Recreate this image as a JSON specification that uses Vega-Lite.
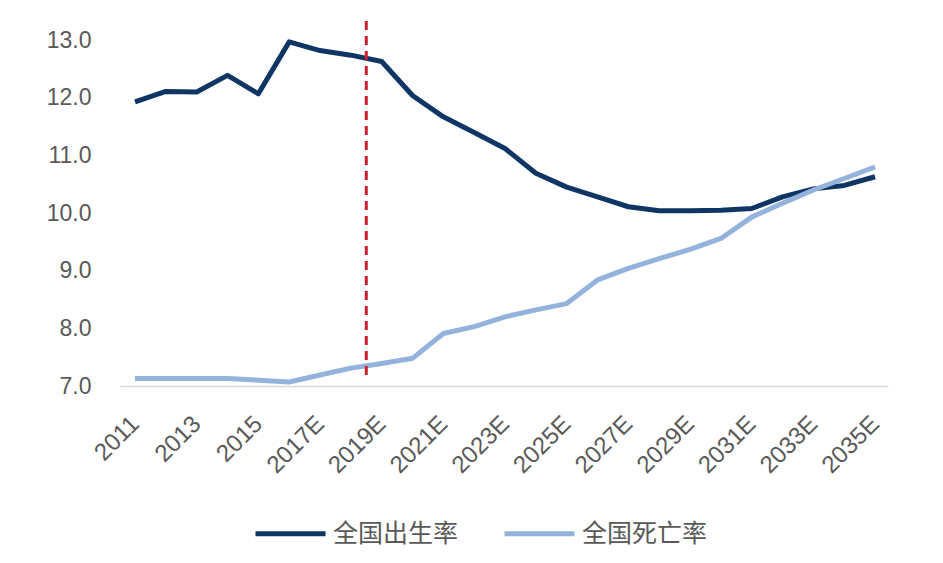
{
  "$schema": "https://vega.github.io/schema/vega-lite/v6.json",
  "autosize": {"type": "none"},
  "width": 768,
  "height": 366,
  "padding": {"left": 120, "top": 20, "right": 55, "bottom": 177},
  "background": "white",
  "config": {
    "view": {"stroke": null},
    "font": "Liberation Sans"
  },
  "datasets": {
    "rates": [
      {"year": 2011, "series": "全国出生率", "value": 11.93},
      {"year": 2012, "series": "全国出生率", "value": 12.11},
      {"year": 2013, "series": "全国出生率", "value": 12.10},
      {"year": 2014, "series": "全国出生率", "value": 12.39},
      {"year": 2015, "series": "全国出生率", "value": 12.07},
      {"year": 2016, "series": "全国出生率", "value": 12.97},
      {"year": 2017, "series": "全国出生率", "value": 12.82},
      {"year": 2018, "series": "全国出生率", "value": 12.74},
      {"year": 2019, "series": "全国出生率", "value": 12.63},
      {"year": 2020, "series": "全国出生率", "value": 12.04},
      {"year": 2021, "series": "全国出生率", "value": 11.67},
      {"year": 2022, "series": "全国出生率", "value": 11.40},
      {"year": 2023, "series": "全国出生率", "value": 11.12},
      {"year": 2024, "series": "全国出生率", "value": 10.69},
      {"year": 2025, "series": "全国出生率", "value": 10.45},
      {"year": 2026, "series": "全国出生率", "value": 10.28},
      {"year": 2027, "series": "全国出生率", "value": 10.11},
      {"year": 2028, "series": "全国出生率", "value": 10.04},
      {"year": 2029, "series": "全国出生率", "value": 10.04},
      {"year": 2030, "series": "全国出生率", "value": 10.05},
      {"year": 2031, "series": "全国出生率", "value": 10.08},
      {"year": 2032, "series": "全国出生率", "value": 10.28},
      {"year": 2033, "series": "全国出生率", "value": 10.42},
      {"year": 2034, "series": "全国出生率", "value": 10.48},
      {"year": 2035, "series": "全国出生率", "value": 10.63},
      {"year": 2011, "series": "全国死亡率", "value": 7.13},
      {"year": 2012, "series": "全国死亡率", "value": 7.13},
      {"year": 2013, "series": "全国死亡率", "value": 7.13},
      {"year": 2014, "series": "全国死亡率", "value": 7.13},
      {"year": 2015, "series": "全国死亡率", "value": 7.10},
      {"year": 2016, "series": "全国死亡率", "value": 7.07},
      {"year": 2017, "series": "全国死亡率", "value": 7.19},
      {"year": 2018, "series": "全国死亡率", "value": 7.31},
      {"year": 2019, "series": "全国死亡率", "value": 7.39},
      {"year": 2020, "series": "全国死亡率", "value": 7.48},
      {"year": 2021, "series": "全国死亡率", "value": 7.91},
      {"year": 2022, "series": "全国死亡率", "value": 8.03},
      {"year": 2023, "series": "全国死亡率", "value": 8.20},
      {"year": 2024, "series": "全国死亡率", "value": 8.32},
      {"year": 2025, "series": "全国死亡率", "value": 8.43},
      {"year": 2026, "series": "全国死亡率", "value": 8.84},
      {"year": 2027, "series": "全国死亡率", "value": 9.04},
      {"year": 2028, "series": "全国死亡率", "value": 9.21},
      {"year": 2029, "series": "全国死亡率", "value": 9.37},
      {"year": 2030, "series": "全国死亡率", "value": 9.56},
      {"year": 2031, "series": "全国死亡率", "value": 9.93},
      {"year": 2032, "series": "全国死亡率", "value": 10.17},
      {"year": 2033, "series": "全国死亡率", "value": 10.40},
      {"year": 2034, "series": "全国死亡率", "value": 10.60},
      {"year": 2035, "series": "全国死亡率", "value": 10.80}
    ],
    "marker": [
      {"year": 2018.5, "low": 7.19, "high": 13.35}
    ]
  },
  "layer": [
    {
      "data": {"name": "rates"},
      "mark": {"type": "line", "strokeWidth": 5, "strokeJoin": "round", "strokeCap": "butt"},
      "encoding": {
        "x": {
          "field": "year", "type": "quantitative",
          "scale": {"domain": [2010.513, 2035.42], "nice": false, "zero": false},
          "axis": {
            "title": null,
            "values": [2011, 2013, 2015, 2017, 2019, 2021, 2023, 2025, 2027, 2029, 2031, 2033, 2035],
            "labelExpr": "datum.value < 2017 ? format(datum.value, 'd') : format(datum.value, 'd') + 'E'",
            "labelAngle": -45,
            "labelAlign": "right",
            "labelBaseline": "middle",
            "labelFontSize": 24,
            "labelColor": "#595959",
            "labelPadding": 34,
            "ticks": false,
            "grid": false,
            "domainColor": "#d9d9d9",
            "domainWidth": 1.5,
            "labelFlush": false,
            "labelOverlap": false
          }
        },
        "y": {
          "field": "value", "type": "quantitative",
          "scale": {"domain": [7, 13.35], "nice": false, "zero": false},
          "axis": {
            "title": null,
            "values": [7, 8, 9, 10, 11, 12, 13],
            "format": ".1f",
            "labelFontSize": 23,
            "labelColor": "#595959",
            "labelPadding": 29,
            "ticks": false,
            "domain": false,
            "grid": false
          }
        },
        "color": {
          "field": "series", "type": "nominal",
          "scale": {"domain": ["全国出生率", "全国死亡率"], "range": ["#0f3565", "#94b3dc"]},
          "legend": {
            "title": null,
            "orient": "none",
            "direction": "horizontal",
            "legendX": 133,
            "legendY": 476,
            "symbolType": "stroke",
            "symbolSize": 4900,
            "symbolStrokeWidth": 5,
            "labelFont": "Noto Sans CJK SC",
            "labelFontSize": 25,
            "labelColor": "#595959",
            "labelOffset": 5,
            "columnPadding": 35
          }
        }
      }
    },
    {
      "data": {"name": "marker"},
      "mark": {"type": "rule", "color": "#c8202f", "strokeWidth": 3, "strokeDash": [9, 6]},
      "encoding": {
        "x": {"field": "year", "type": "quantitative"},
        "y": {"field": "low", "type": "quantitative"},
        "y2": {"field": "high"}
      }
    }
  ]
}
